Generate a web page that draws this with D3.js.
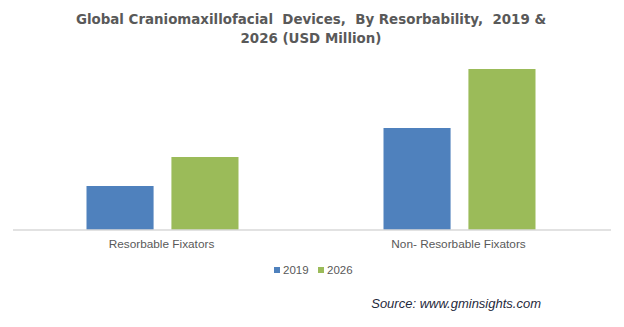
<!DOCTYPE html>
<html>
<head>
<meta charset="utf-8">
<script src="https://cdn.jsdelivr.net/npm/d3@7/dist/d3.min.js"></script>
<style>
  html, body { margin: 0; padding: 0; background: #fff; }
  svg { display: block; }
</style>
</head>
<body>
<svg id="chart" width="624" height="327"></svg>
<script>
(function (d3) {
	"use strict";

	/***** Data *****/
	var categories = ["Resorbable Fixators", "Non- Resorbable Fixators"];
	var years = ["2019", "2026"];
	var values2019 = [220, 510];
	var values2026 = [365, 805];
	var titleLines = [
		"Global Craniomaxillofacial  Devices,  By Resorbability,  2019 &",
		"2026 (USD Million)"
	];
	var sourceText = "Source: www.gminsights.com";

	var colors = ["#4f81bd", "#9bbb59"];

	/***** Layout *****/
	const width = 624;
	const plotLeft = 13;
	const plotRight = 607;
	const lineRight = 611;
	const baseline = 230;

	var svg = d3.select("#chart");

	// Title
	svg.append("g")
		.selectAll("text")
		.data(titleLines)
		.join("text")
		.attr("x", width / 2 - 1)
		.attr("y", function (d, i) { return 24 + i * 19; })
		.attr("text-anchor", "middle")
		.style("font-family", "'DejaVu Sans', Verdana, sans-serif")
		.style("font-weight", "bold")
		.style("font-size", "13.4px")
		.style("fill", "#595959")
		.style("white-space", "pre")
		.text(function (d) { return d; });

	// Scales
	var x0 = d3.scaleBand()
		.domain(categories)
		.range([plotLeft, plotRight]);

	var x1 = d3.scaleBand()
		.domain(years)
		.range([0, 152])
		.paddingInner(0.21);

	var y = d3.scaleLinear()
		.domain([0, 900])
		.range([baseline, 50]);

	var series = years.map(function (yr, i) {
		return { year: yr, values: i === 0 ? values2019 : values2026, color: colors[i] };
	});

	// Bars
	var groups = svg.append("g")
		.selectAll("g")
		.data(series)
		.join("g")
		.attr("fill", function (d) { return d.color; });

	groups.selectAll("rect")
		.data(function (s) {
			return s.values.map(function (v, j) { return { cat: categories[j], year: s.year, value: v }; });
		})
		.join("rect")
		.attr("x", function (d) {
			return x0(d.cat) + (x0.bandwidth() - 152) / 2 + x1(d.year) + 1;
		})
		.attr("width", x1.bandwidth())
		.attr("y", function (d) { return y(d.value); })
		.attr("height", function (d) { return baseline - y(d.value); });

	// Category axis
	var xAxis = d3.axisBottom(x0).tickSize(0).tickPadding(10);
	var axisG = svg.append("g")
		.attr("transform", "translate(0," + baseline + ")")
		.call(xAxis);
	axisG.select(".domain").remove();
	axisG.append("line")
		.attr("x1", plotLeft)
		.attr("x2", lineRight)
		.attr("stroke", "#d9d9d9")
		.attr("stroke-width", 1.5);
	axisG.selectAll("text")
		.style("font-family", "'Liberation Sans', Arial, sans-serif")
		.style("font-size", "11.8px")
		.style("fill", "#595959");

	// Legend
	var legend = svg.append("g")
		.attr("transform", "translate(274,270)");
	var item = legend.selectAll("g")
		.data(series)
		.join("g")
		.attr("transform", function (d, i) { return "translate(" + (i * 44) + ",0)"; });
	item.append("rect")
		.attr("x", 0)
		.attr("y", -3)
		.attr("width", 6)
		.attr("height", 6)
		.attr("fill", function (d) { return d.color; });
	item.append("text")
		.attr("x", 9)
		.attr("y", 4)
		.style("font-family", "'Liberation Sans', Arial, sans-serif")
		.style("font-size", "11.5px")
		.style("fill", "#595959")
		.text(function (d) { return d.year; });

	// Source note
	svg.append("text")
		.attr("x", 541)
		.attr("y", 308)
		.attr("text-anchor", "end")
		.style("font-family", "'Liberation Sans', Arial, sans-serif")
		.style("font-style", "italic")
		.style("font-size", "13px")
		.style("fill", "#1f2a3c")
		.text(sourceText);

})(d3);
</script>
</body>
</html>
